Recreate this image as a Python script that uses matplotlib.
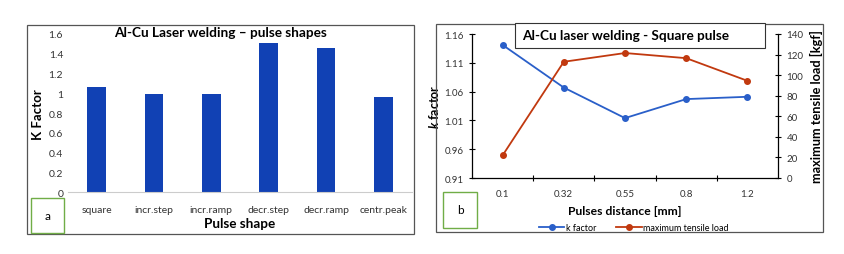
import matplotlib.pyplot as plt
from matplotlib.patches import Rectangle
from matplotlib.lines import Line2D

plt.rcParams['font.family'] = ['Lato', 'DejaVu Sans']
plt.rcParams['mathtext.fontset'] = 'custom'
plt.rcParams['mathtext.bfit'] = 'Lato:italic:bold'

# panel a data
shapes = ['square', 'incr.step', 'incr.ramp', 'decr.step', 'decr.ramp', 'centr.peak']
k_shape = [1.06, 0.995, 0.99, 1.51, 1.46, 0.96]

# panel b data
distances = ['0.1', '0.32', '0.55', '0.8', '1.2']
k_factor = [1.141, 1.067, 1.014, 1.047, 1.051]
tensile = [22, 113, 121.5, 116.5, 94.5]

W, H = 844, 255
fig = plt.figure(figsize=(W / 100, H / 100), dpi=100)


def fx(px):
    return px / W


def fy(py):
    return 1 - py / H


# outer frames
fig.patches.append(Rectangle((fx(27), fy(235)), fx(414) - fx(27), fy(26) - fy(235),
                             transform=fig.transFigure, fill=False, ec='#555555', lw=0.9))
fig.patches.append(Rectangle((fx(436), fy(233)), fx(823) - fx(436), fy(25) - fy(233),
                             transform=fig.transFigure, fill=False, ec='#555555', lw=0.9))

# ---- panel a ----
axa = fig.add_axes([fx(68), fy(193.3), fx(412) - fx(68), fy(35) - fy(193.3)])
axa.bar(range(len(shapes)), k_shape, width=0.33, color='#1141B4')
axa.set_xlim(-0.5, len(shapes) - 0.5)
axa.set_ylim(0, 1.6)
axa.set_yticks([0, 0.2, 0.4, 0.6, 0.8, 1, 1.2, 1.4, 1.6])
axa.set_yticklabels(['0', '0.2', '0.4', '0.6', '0.8', '1', '1.2', '1.4', '1.6'])
axa.set_xticks(range(len(shapes)))
axa.set_xticklabels(shapes)
for s in ['top', 'right', 'left']:
    axa.spines[s].set_visible(False)
axa.spines['bottom'].set_color('#cccccc')
axa.tick_params(length=0, labelsize=7.5, colors='#333333')
axa.tick_params(axis='x', pad=9)
axa.set_ylabel('K Factor', fontsize=9.5, fontweight='bold', labelpad=3)
axa.set_xlabel('Pulse shape', fontsize=9.7, fontweight='bold', labelpad=2)
fig.text(fx(220), fy(33), 'Al-Cu Laser welding – pulse shapes', ha='center', va='center',
         fontsize=9.8, fontweight='bold')
fig.patches.append(Rectangle((fx(31), fy(234)), fx(64) - fx(31), fy(199) - fy(234),
                             transform=fig.transFigure, fill=False, ec='#70AD47', lw=1))
fig.text(fx(47.5), fy(217), 'a', ha='center', va='center', fontsize=8.5)

# ---- panel b ----
axb = fig.add_axes([fx(472), fy(179), fx(778) - fx(472), fy(35) - fy(179)])
xs = range(len(distances))
axb.plot(xs, k_factor, color='#2A5FC9', lw=1.3, marker='o', ms=4)
axb.set_xlim(-0.5, len(distances) - 0.5)
axb.set_ylim(0.91, 1.16)
axb.set_yticks([0.91, 0.96, 1.01, 1.06, 1.11, 1.16])
axb.set_yticklabels(['0.91', '0.96', '1.01', '1.06', '1.11', '1.16'])
axb.set_xticks(xs)
axb.set_xticklabels(distances)
# tick marks sit between the categories
axb.set_xticks([i + 0.5 for i in range(len(distances))][:-1], minor=True)
axb.tick_params(axis='x', which='major', length=0, pad=8)
axb.tick_params(axis='x', which='minor', direction='inout', length=5, width=0.8)
axb.tick_params(axis='y', direction='inout', length=5, width=0.8)
axb.tick_params(labelsize=7, labelcolor='#333333')
axb.spines['top'].set_visible(False)
axb.spines['right'].set_visible(False)
axb.spines['left'].set_linewidth(0.9)
axb.spines['bottom'].set_linewidth(0.9)
axb.set_ylabel(r'$\mathbfit{k}$ factor', fontsize=9, fontweight='bold', labelpad=2)
axb.set_xlabel('Pulses distance [mm]', fontsize=8.7, fontweight='bold', labelpad=5)

axb2 = axb.twinx()
axb2.plot(xs, tensile, color='#C1390F', lw=1.3, marker='o', ms=4)
axb2.set_ylim(0, 140)
axb2.set_yticks(range(0, 141, 20))
axb2.tick_params(axis='y', direction='inout', length=5, width=0.8, labelsize=7,
                 labelcolor='#333333')
axb2.spines['top'].set_visible(False)
axb2.spines['left'].set_visible(False)
axb2.spines['bottom'].set_visible(False)
axb2.spines['right'].set_linewidth(0.9)
axb2.set_ylabel('maximum tensile load [kgf]', fontsize=9.2, fontweight='bold', labelpad=5)

# title box
fig.patches.append(Rectangle((fx(515), fy(49)), fx(765) - fx(515), fy(24) - fy(49),
                             transform=fig.transFigure, fc='white', ec='#333333', lw=0.8,
                             zorder=5))
fig.text(fx(522), fy(36.5), 'Al-Cu laser welding - Square pulse', ha='left', va='center',
         fontsize=9.8, fontweight='bold', zorder=6)
fig.patches.append(Rectangle((fx(443), fy(229)), fx(477) - fx(443), fy(193) - fy(229),
                             transform=fig.transFigure, fill=False, ec='#70AD47', lw=1))
fig.text(fx(460), fy(211), 'b', ha='center', va='center', fontsize=8.5)

handles = [Line2D([], [], color='#2A5FC9', lw=1.3, marker='o', ms=4),
           Line2D([], [], color='#C1390F', lw=1.3, marker='o', ms=4)]
fig.legend(handles, ['k factor', 'maximum tensile load'], loc='center',
           bbox_to_anchor=(fx(634), fy(229)), ncol=2, frameon=False, fontsize=6.5,
           handlelength=2.8, columnspacing=2.2, handletextpad=0.2)

fig.savefig('out.png', dpi=100)
